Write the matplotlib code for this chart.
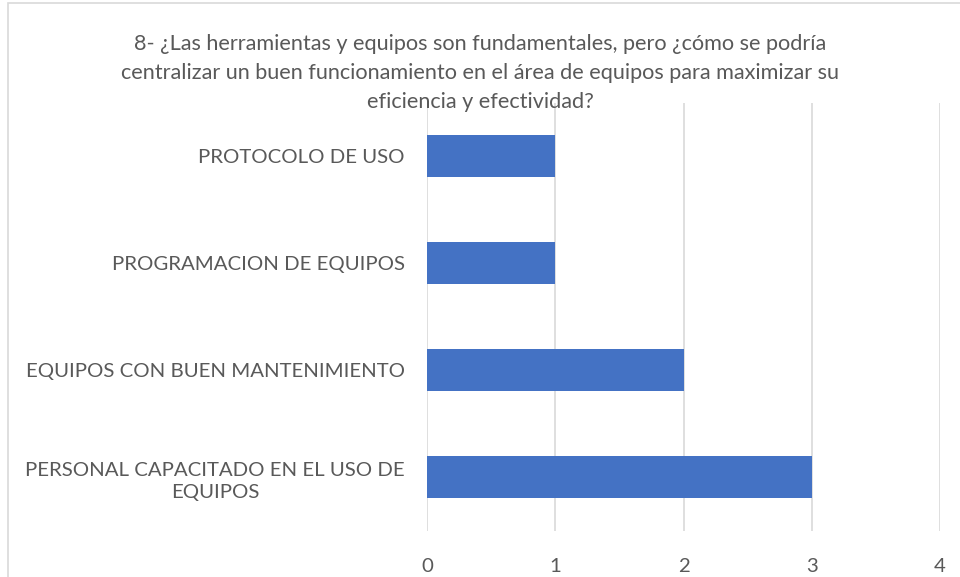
import matplotlib.pyplot as plt
from matplotlib.patches import Rectangle

categories = ['PERSONAL CAPACITADO EN EL USO DE\nEQUIPOS',
              'EQUIPOS CON BUEN MANTENIMIENTO',
              'PROGRAMACION DE EQUIPOS',
              'PROTOCOLO DE USO']
values = [3, 2, 1, 1]
xticks = [0, 1, 2, 3, 4]
title = ('8- ¿Las herramientas y equipos son fundamentales, pero ¿cómo se podría\n'
         'centralizar un buen funcionamiento en el área de equipos para maximizar su\n'
         'eficiencia y efectividad?')

plt.rcParams['font.family'] = ['Lato', 'DejaVu Sans']
gray = '#595959'

fig = plt.figure(figsize=(9.6, 5.77), dpi=100)
ax = fig.add_axes([427 / 960, 1 - 530.5 / 577, 513 / 960, 428 / 577])

# outer chart border (cropped at right/bottom like the source)
fig.patches.append(Rectangle((8 / 960, -0.1), 1.2, 1 - 3 / 577 + 0.1,
                             transform=fig.transFigure, fill=False,
                             edgecolor='#d9d9d9', linewidth=1.2))

ypos = range(len(categories))
ax.barh(ypos, values, height=0.4, color='#4472C4', zorder=3)
ax.set_xlim(0, 4)
ax.set_ylim(-0.5, len(categories) - 0.5)
ax.set_xticks(xticks)
ax.set_yticks(list(ypos))
ax.set_yticklabels(categories, multialignment='center', linespacing=1.4)
ax.grid(axis='x', color='#d9d9d9', linewidth=1.2, zorder=0)
for s in ax.spines.values():
    s.set_visible(False)
ax.tick_params(axis='both', length=0, labelsize=14.7, colors=gray)
ax.tick_params(axis='y', pad=16)
ax.tick_params(axis='x', pad=20)

fig.text(0.5, 1 - 73 / 577, title, ha='center', va='center', color=gray,
         fontsize=15.6, linespacing=1.56)

fig.savefig('out.png', dpi=100)
